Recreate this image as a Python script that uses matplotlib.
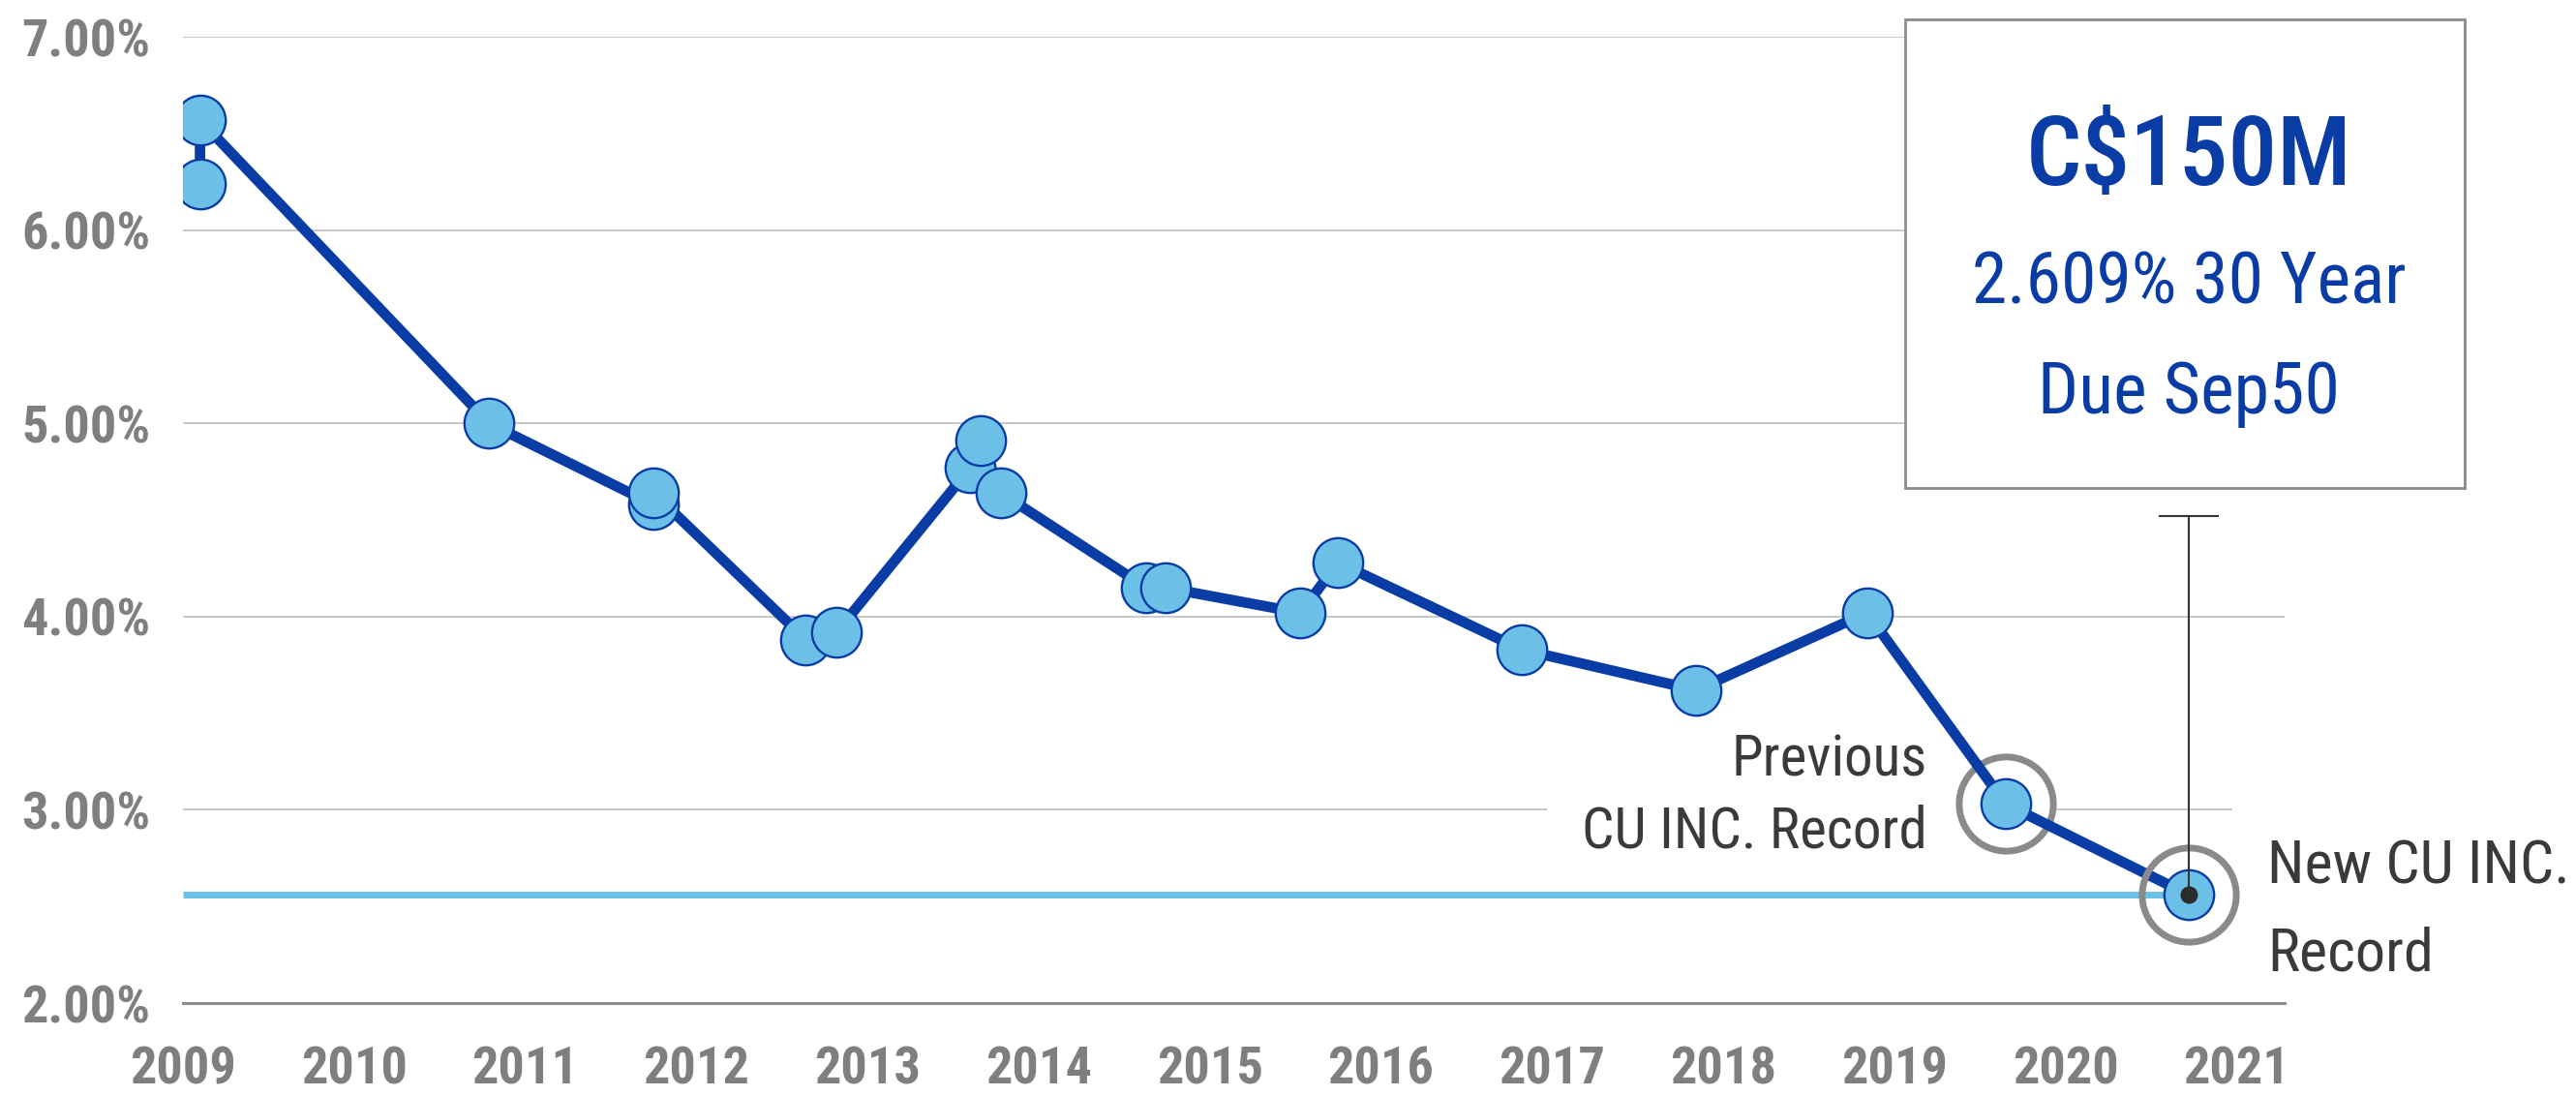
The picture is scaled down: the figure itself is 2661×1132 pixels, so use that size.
import matplotlib
matplotlib.use("Agg")
import matplotlib.pyplot as plt
from matplotlib import font_manager
from matplotlib.patches import Rectangle

# issue date (decimal year) and yield (%) of each bond, in issue order
issue_dates = [2009.10, 2009.10, 2010.79, 2011.75, 2011.75, 2012.64, 2012.82,
               2013.60, 2013.66, 2013.78, 2014.63, 2014.74, 2015.53, 2015.75,
               2016.82, 2017.84, 2018.84, 2019.65, 2020.72]
yields = [6.24, 6.57, 5.00, 4.58, 4.64, 3.88, 3.92,
          4.77, 4.91, 4.64, 4.15, 4.15, 4.02, 4.28,
          3.83, 3.62, 4.02, 3.03, 2.56]

year_ticks = list(range(2009, 2022))
pct_ticks = [2, 3, 4, 5, 6, 7]
pct_labels = ['2.00%', '3.00%', '4.00%', '5.00%', '6.00%', '7.00%']

callout_top = 4.52   # where the stem above the new record ends
box_lines = ['C$150M', '2.609% 30 Year', 'Due Sep50']
prev_lines = ['Previous', 'CU INC. Record']
new_lines = ['New CU INC.', 'Record']

dark_blue = '#0a3ca6'
light_blue = '#6cc0e8'
tick_grey = '#7f7f7f'
ring_grey = '#8a8a8a'
label_grey = '#3a3a3a'

# the original uses a condensed face; take the narrowest one we can find
entries = font_manager.fontManager.ttflist
names = {f.name for f in entries}
has_condensed = {f.name for f in entries
                 if f.stretch in ('condensed', 'semi-condensed', 'extra-condensed', 'ultra-condensed')}
font_choice = 'Liberation Sans'
for fam in ['Liberation Sans Narrow', 'Roboto Condensed', 'Open Sans Condensed',
            'Noto Sans Condensed', 'DejaVu Sans Condensed']:
    if fam in names:
        font_choice = fam
        break
else:
    for fam in ['Open Sans', 'Noto Sans', 'Roboto', 'DejaVu Sans']:
        if fam in has_condensed:
            font_choice = fam
            break
plt.rcParams['font.family'] = [font_choice, 'DejaVu Sans']
plt.rcParams['font.stretch'] = 'condensed'

fig = plt.figure(figsize=(26.61, 11.32), dpi=100)
ax = fig.add_axes([0.0710, 0.0848, 0.8159, 0.8814])
ax.set_xlim(2009, 2021.28)
ax.set_ylim(2, 7)

# axes, ticks, grid
ax.set_yticks(pct_ticks)
ax.set_yticklabels(pct_labels)
ax.set_xticks(year_ticks)
ax.set_xticklabels([str(y) for y in year_ticks])
ax.tick_params(axis='both', length=0, labelsize=40, labelcolor=tick_grey)
ax.tick_params(axis='y', pad=24)
ax.tick_params(axis='x', pad=31)
for lab in ax.get_xticklabels() + ax.get_yticklabels():
    lab.set_fontweight('bold')
ax.yaxis.grid(True, color='#c4c4c4', lw=1.3, zorder=0)
ax.set_axisbelow(True)
for s in ['top', 'right', 'left']:
    ax.spines[s].set_visible(False)
ax.spines['bottom'].set_color('#8c8c8c')
ax.spines['bottom'].set_linewidth(2.2)

prev_x, prev_y = issue_dates[-2], yields[-2]
new_x, new_y = issue_dates[-1], yields[-1]

# ring behind the previous record (white inside, hides the grid)
ax.plot(prev_x, prev_y, marker='o', ms=70, mfc='white', mec=ring_grey, mew=5, zorder=1.8)

# level of the new record
ax.hlines(new_y, ax.get_xlim()[0], new_x, color=light_blue, lw=5, zorder=2)

# yield history
ax.plot(issue_dates, yields, color=dark_blue, lw=7.8, zorder=3, solid_capstyle='round')
ax.plot(issue_dates, yields, ls='none', marker='o', ms=37, mfc=light_blue,
        mec=dark_blue, mew=1.7, zorder=4)

# new record: dot, ring and call-out stem
ax.plot(new_x, new_y, marker='o', ms=12, color='#2b2b2b', zorder=6)
ax.plot(new_x, new_y, marker='o', ms=70, mfc='none', mec=ring_grey, mew=5, zorder=5)
ax.vlines(new_x, new_y, callout_top, color='#333333', lw=1.5, zorder=6)
ax.plot(new_x, callout_top, marker='_', ms=45, mew=1.5, color='#333333', zorder=6)

# call-out box above the chart
box = Rectangle((2019.06, 4.666), 3.27, 2.426, fc='white', ec=ring_grey, lw=2,
                clip_on=False, zorder=7)
ax.add_patch(box)
t_amount = ax.text(new_x, 6.235, box_lines[0], ha='center', va='baseline', fontsize=80,
                   fontweight='medium', color=dark_blue, zorder=8)
t_rate = ax.text(new_x, 5.622, box_lines[1], ha='center', va='baseline', fontsize=56,
                 color=dark_blue, zorder=8)
t_due = ax.text(new_x, 5.051, box_lines[2], ha='center', va='baseline', fontsize=56,
                color=dark_blue, zorder=8)

# record labels, one text per line
prev_txt = [ax.text(2019.19, yb, s, ha='right', va='baseline', fontsize=44,
                    color=label_grey, zorder=1.6)
            for yb, s in zip([3.173, 2.806], prev_lines)]
new_txt = [ax.text(2021.18, yb, s, ha='left', va='baseline', fontsize=44,
                   color=label_grey, zorder=1.6)
           for yb, s in zip([2.62, 2.169], new_lines)]

# scale every text so its width matches the reference
fig.canvas.draw()
renderer = fig.canvas.get_renderer()


def scale_for(txt, width_px):
    return width_px / txt.get_window_extent(renderer).width


k = scale_for(ax.get_yticklabels()[-1], 133)
ax.tick_params(axis='both', labelsize=40 * k)

for txt, w in [(t_amount, 337), (t_rate, 449), (t_due, 312)]:
    txt.set_fontsize(txt.get_fontsize() * scale_for(txt, w))

# the line that crosses the 3.00% gridline gets a white backing, drawn under the other line
for group, widest, w, backed in [(prev_txt, 1, 357, 1), (new_txt, 0, 313, 0)]:
    size = group[widest].get_fontsize() * scale_for(group[widest], w)
    pad = 36 / (size * 100 / 72)
    for txt in group:
        txt.set_fontsize(size)
    group[backed].set_bbox(dict(boxstyle='square,pad=%.3f' % pad, fc='white', ec='none'))
    group[backed].set_zorder(1.5)

fig.savefig('out.png', dpi=100)
